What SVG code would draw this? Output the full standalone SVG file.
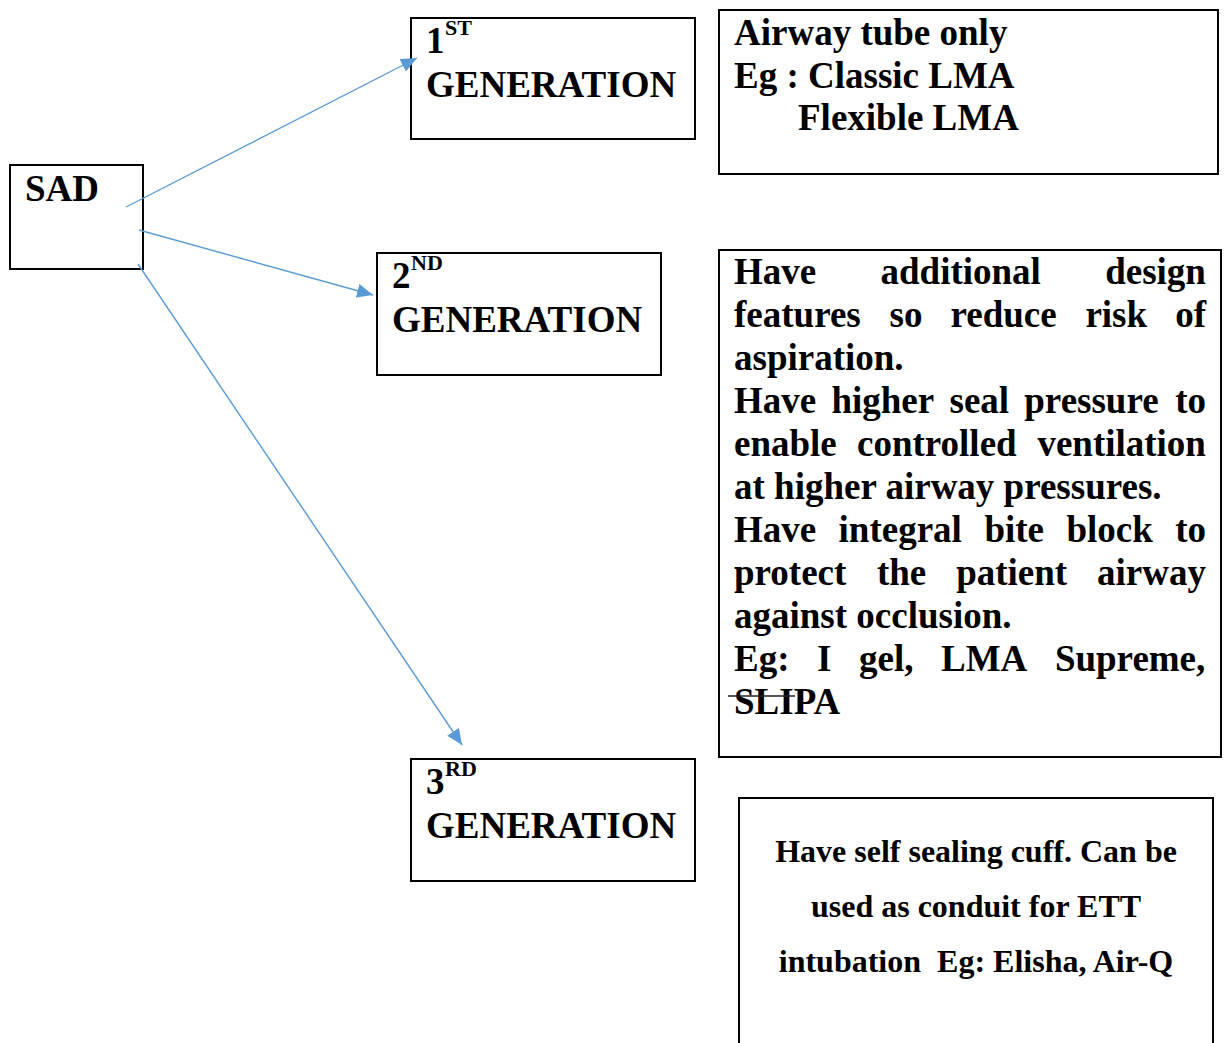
<svg xmlns="http://www.w3.org/2000/svg" width="1226" height="1043" viewBox="0 0 1226 1043">
<style>
.box{fill:#fff;stroke:#000;stroke-width:2}
.t{font-family:"Liberation Serif","Times New Roman",serif;font-weight:bold;fill:#000}
.big{font-size:37px}
.sup{font-size:22px}
.mid{font-size:32px}
.conn{stroke:#5B9BD5;stroke-width:1.4;fill:none}
</style>
<defs>
<marker id="ah" viewBox="0 0 16 14" refX="16" refY="7" markerWidth="16" markerHeight="14" markerUnits="userSpaceOnUse" orient="auto">
<path d="M0,0 L16,7 L0,14 z" fill="#5B9BD5"/>
</marker>
</defs>
<rect width="1226" height="1043" fill="#fff"/>

<g id="sad">
<rect class="box" x="10" y="165" width="133" height="104"/>
<text class="t big" x="25" y="201">SAD</text>
</g>

<g id="gen1">
<rect class="box" x="411" y="18" width="284" height="121"/>
<text class="t big" x="426" y="52.7">1</text>
<text class="t sup" x="445" y="35">ST</text>
<text class="t big" x="426" y="97">GENERATION</text>
</g>

<g id="gen2">
<rect class="box" x="377" y="253" width="284" height="122"/>
<text class="t big" x="392" y="287.7">2</text>
<text class="t sup" x="411" y="270">ND</text>
<text class="t big" x="392" y="332">GENERATION</text>
</g>

<g id="gen3">
<rect class="box" x="411" y="759" width="284" height="122"/>
<text class="t big" x="426" y="793.7">3</text>
<text class="t sup" x="445" y="776">RD</text>
<text class="t big" x="426" y="838">GENERATION</text>
</g>

<g id="desc1">
<rect class="box" x="719" y="10" width="499" height="164"/>
<text class="t big" x="734" y="45">Airway tube only</text>
<text class="t big" x="734" y="88">Eg : Classic LMA</text>
<text class="t big" x="798" y="130">Flexible LMA</text>
</g>

<g id="desc2">
<rect class="box" x="719" y="250" width="502" height="507"/>
<text class="t big" y="284"><tspan x="734">Have</tspan><tspan x="880.5">additional</tspan><tspan x="1105.2">design</tspan></text>
<text class="t big" y="327"><tspan x="734">features</tspan><tspan x="889.5">so</tspan><tspan x="950.5">reduce</tspan><tspan x="1085.4">risk</tspan><tspan x="1175.2">of</tspan></text>
<text class="t big" x="734" y="370">aspiration.</text>
<text class="t big" y="413"><tspan x="734">Have</tspan><tspan x="831.4">higher</tspan><tspan x="949.5">seal</tspan><tspan x="1024.3">pressure</tspan><tspan x="1175.2">to</tspan></text>
<text class="t big" y="456"><tspan x="734">enable</tspan><tspan x="857">controlled</tspan><tspan x="1037.4">ventilation</tspan></text>
<text class="t big" x="734" y="499">at higher airway pressures.</text>
<text class="t big" y="542"><tspan x="734">Have</tspan><tspan x="838.6">integral</tspan><tspan x="984.4">bite</tspan><tspan x="1066.4">block</tspan><tspan x="1175.2">to</tspan></text>
<text class="t big" y="585"><tspan x="734">protect</tspan><tspan x="876.9">the</tspan><tspan x="956.2">patient</tspan><tspan x="1097.1">airway</tspan></text>
<text class="t big" x="734" y="628">against occlusion.</text>
<text class="t big" y="671"><tspan x="734">Eg:</tspan><tspan x="817.1">I</tspan><tspan x="859">gel,</tspan><tspan x="941">LMA</tspan><tspan x="1054.9">Supreme,</tspan></text>
<text class="t big" x="734" y="714">SLIPA</text>
<line x1="728" y1="696" x2="795" y2="696" stroke="#222" stroke-width="1.5"/>
</g>

<g id="desc3">
<rect class="box" x="739" y="798" width="474" height="270"/>
<text class="t mid" x="976" y="861.5" text-anchor="middle">Have self sealing cuff. Can be</text>
<text class="t mid" x="976" y="916.5" text-anchor="middle">used as conduit for ETT</text>
<text class="t mid" x="976" y="971.5" text-anchor="middle" xml:space="preserve">intubation  Eg: Elisha, Air-Q</text>
</g>

<g id="connectors">
<line class="conn" x1="126" y1="207" x2="417" y2="58" marker-end="url(#ah)"/>
<line class="conn" x1="139" y1="230" x2="373" y2="295" marker-end="url(#ah)"/>
<line class="conn" x1="138" y1="264" x2="462" y2="745" marker-end="url(#ah)"/>
</g>
</svg>
